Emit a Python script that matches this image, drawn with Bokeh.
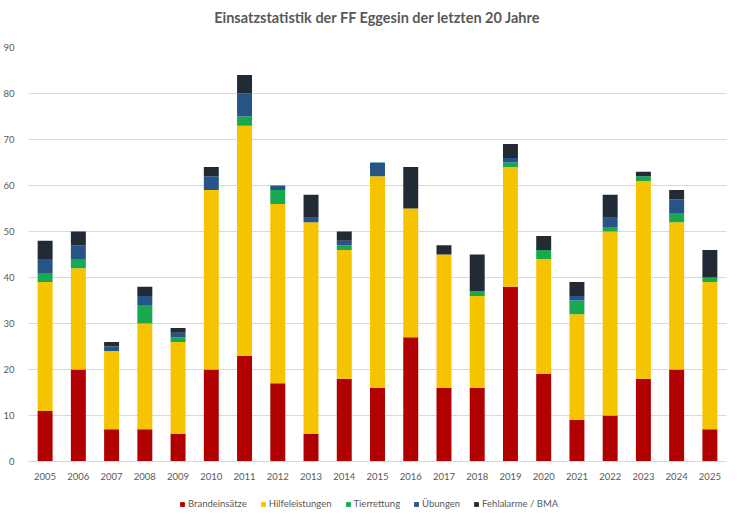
from bokeh.plotting import figure
from bokeh.layouts import column
from bokeh.models import ColumnDataSource, Range1d, FactorRange, Legend, SingleIntervalTicker
from bokeh.embed import file_html
from bokeh.resources import INLINE

years = [str(y) for y in range(2005, 2026)]
brand = [11, 20, 7, 7, 6, 20, 23, 17, 6, 18, 16, 27, 16, 16, 38, 19, 9, 10, 18, 20, 7]
hilfe = [28, 22, 17, 23, 20, 39, 50, 39, 46, 28, 46, 28, 29, 20, 26, 25, 23, 40, 43, 32, 32]
tier = [2, 2, 0, 4, 1, 0, 2, 3, 0, 1, 0, 0, 0, 1, 1, 2, 3, 1, 1, 2, 1]
uebung = [3, 3, 1, 2, 1, 3, 5, 1, 1, 1, 3, 0, 0, 0, 1, 0, 1, 2, 0, 3, 0]
fehl = [4, 3, 1, 2, 1, 2, 4, 0, 5, 2, 0, 9, 2, 8, 3, 3, 3, 5, 1, 2, 6]

series = ["brand", "hilfe", "tier", "uebung", "fehl"]
labels = ["Brandeinsätze", "Hilfeleistungen", "Tierrettung", "Übungen", "Fehlalarme / BMA"]
colors = ["#B00000", "#F6C300", "#18A94F", "#275487", "#222A35"]

source = ColumnDataSource(data=dict(years=years, brand=brand, hilfe=hilfe, tier=tier,
                                    uebung=uebung, fehl=fehl))

FONT = "Lato"
TXT = "#595959"
W = 732

# title strip
tf = figure(width=W, height=36, output_backend="svg", toolbar_location=None,
            x_axis_location=None, y_axis_location=None,
            min_border_left=0, min_border_right=0, min_border_top=0, min_border_bottom=0)
tf.outline_line_color = None
tf.xgrid.grid_line_color = None
tf.ygrid.grid_line_color = None
tf.title.text = "Einsatzstatistik der FF Eggesin der letzten 20 Jahre"
tf.title.align = "center"
tf.title.offset = -7
tf.title.text_font = FONT
tf.title.text_font_size = "14.5px"
tf.title.text_font_style = "bold"
tf.title.text_color = TXT
tf.title.standoff = 13

p = figure(x_range=FactorRange(*years), y_range=Range1d(0, 90),
           width=W, height=448, output_backend="svg", toolbar_location=None,
           min_border_left=22, min_border_right=6, min_border_top=11, min_border_bottom=23)

p.vbar_stack(series, x="years", width=0.45, color=colors, source=source, line_color=None)

p.outline_line_color = None
p.xgrid.grid_line_color = None
p.ygrid.grid_line_color = "#D9D9D9"
p.ygrid.grid_line_width = 1

p.yaxis.ticker = SingleIntervalTicker(interval=10)
p.yaxis.axis_line_color = None
p.yaxis.major_tick_line_color = None
p.yaxis.minor_tick_line_color = None
p.yaxis.major_label_text_font = FONT
p.yaxis.major_label_text_font_size = "9.5px"
p.yaxis.major_label_text_color = TXT
p.yaxis.major_label_standoff = 8

p.xaxis.axis_line_color = "#D9D9D9"
p.xaxis.major_tick_line_color = None
p.xaxis.minor_tick_line_color = None
p.xaxis.major_label_text_font = FONT
p.xaxis.major_label_text_font_size = "9.5px"
p.xaxis.major_label_text_color = TXT
p.xaxis.major_label_standoff = 5

# legend strip: same series, renderers hidden, only the legend is shown
lg = figure(x_range=p.x_range, y_range=Range1d(1000, 1001), width=W, height=26,
            output_backend="svg", toolbar_location=None,
            x_axis_location=None, y_axis_location=None,
            min_border_left=0, min_border_right=0, min_border_top=0, min_border_bottom=0)
lg.outline_line_color = None
lg.xgrid.grid_line_color = None
lg.ygrid.grid_line_color = None
lrs = lg.vbar_stack(series, x="years", width=0.45, color=colors, source=source,
                    line_color=None)
for r in lrs:
    r.visible = False

legend = Legend(items=[(lab, [r]) for lab, r in zip(labels, lrs)],
                orientation="horizontal", location=(151, 1),
                label_text_font=FONT, label_text_font_size="9.5px",
                label_text_color=TXT, glyph_width=6, glyph_height=6,
                label_standoff=3, spacing=13, padding=1, margin=0,
                label_height=10, border_line_color=None, background_fill_alpha=0)
lg.add_layout(legend, "center")

layout = column(tf, p, lg, spacing=0)
open("out.html", "w").write(file_html(layout, INLINE))
